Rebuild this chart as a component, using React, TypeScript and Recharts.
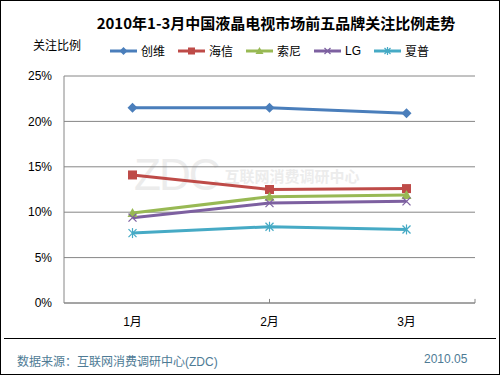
import { LineChart, Line, XAxis, YAxis, CartesianGrid, ReferenceLine } from 'recharts';

const months = ['1月', '2月', '3月'];
const skyworth = [21.5, 21.5, 20.9];
const hisense = [14.1, 12.5, 12.6];
const sony = [9.9, 11.7, 11.9];
const lg = [9.4, 11.0, 11.2];
const sharp = [7.7, 8.4, 8.1];
const yTicks = [0, 5, 10, 15, 20, 25];
const boundaries = [1, 2, 3];

const FONT = '"Liberation Sans", "Noto Sans CJK SC", Arial, sans-serif';

type Shape = 'diamond' | 'square' | 'triangle' | 'x' | 'star';

const series: { key: string; name: string; color: string; shape: Shape; values: number[] }[] = [
  { key: 'skyworth', name: '创维', color: '#4A7EBB', shape: 'diamond', values: skyworth },
  { key: 'hisense', name: '海信', color: '#BE4B48', shape: 'square', values: hisense },
  { key: 'sony', name: '索尼', color: '#98B954', shape: 'triangle', values: sony },
  { key: 'lg', name: 'LG', color: '#7D60A0', shape: 'x', values: lg },
  { key: 'sharp', name: '夏普', color: '#46AAC5', shape: 'star', values: sharp },
];

const data = months.map((m, i) => {
  const row: Record<string, string | number> = { month: m };
  series.forEach((s) => {
    row[s.key] = s.values[i];
  });
  return row;
});

const Marker = ({ cx, cy, color, shape, r = 5 }: { cx: number; cy: number; color: string; shape: Shape; r?: number }) => {
  if (shape === 'diamond') {
    return <polygon points={`${cx},${cy - r} ${cx + r},${cy} ${cx},${cy + r} ${cx - r},${cy}`} fill={color} />;
  }
  if (shape === 'square') {
    return <rect x={cx - r + 0.5} y={cy - r + 0.5} width={2 * r - 1} height={2 * r - 1} fill={color} />;
  }
  if (shape === 'triangle') {
    return <polygon points={`${cx},${cy - r} ${cx + r},${cy + r - 1} ${cx - r},${cy + r - 1}`} fill={color} />;
  }
  const d = r - 1;
  return (
    <g stroke={color} strokeWidth={1.2}>
      <line x1={cx - d} y1={cy - d} x2={cx + d} y2={cy + d} />
      <line x1={cx - d} y1={cy + d} x2={cx + d} y2={cy - d} />
      {shape === 'star' && <line x1={cx} y1={cy - r} x2={cx} y2={cy + r} />}
    </g>
  );
};

const LegendRow = () => (
  <div style={{ position: 'absolute', left: 110, top: 42, display: 'flex', fontFamily: FONT, fontSize: 12 }}>
    {series.map((s) => (
      <div key={s.key} style={{ display: 'flex', alignItems: 'center', marginRight: 13 }}>
        <svg width={28} height={16}>
          <line x1={0} y1={8} x2={27} y2={8} stroke={s.color} strokeWidth={3} />
          <Marker cx={13.5} cy={8} color={s.color} shape={s.shape} r={4} />
        </svg>
        <span style={{ marginLeft: 3, color: '#000' }}>{s.name}</span>
      </div>
    ))}
  </div>
);

export default function App() {
  return (
    <div style={{ position: 'absolute', left: 0, top: 0, width: 500, height: 375, background: '#fff', fontFamily: FONT }}>
      {/* watermark */}
      <div style={{ position: 'absolute', left: 134, top: 150, color: '#ececec', fontFamily: FONT, display: 'flex', alignItems: 'center' }}>
        <span style={{ fontSize: 44, fontWeight: 300, letterSpacing: -2 }}>ZDC</span>
        <span style={{ fontSize: 15, marginLeft: 6, fontWeight: 700 }}>互联网消费调研中心</span>
      </div>
      <div style={{ position: 'absolute', left: 0, top: 0 }}>
        <LineChart width={500} height={375} data={data} margin={{ top: 76, right: 25, bottom: 42, left: 0 }}>
          <CartesianGrid vertical={false} stroke="#868686" strokeWidth={1} />
          <XAxis
            dataKey="month"
            scale="band"
            height={30}
            axisLine={{ stroke: '#868686' }}
            tickLine={false}
            tickSize={0}
            tickMargin={14}
            tick={{ fill: '#000', fontSize: 12, fontFamily: FONT }}
          />
          <XAxis xAxisId="b" type="number" domain={[0, 3]} hide />
          <YAxis
            domain={[0, 25]}
            ticks={yTicks}
            width={64}
            axisLine={{ stroke: '#868686' }}
            tickLine={false}
            tickSize={0}
            tickMargin={12}
            tickFormatter={(v: number) => `${v}%`}
            tick={{ fill: '#000', fontSize: 12, fontFamily: FONT }}
          />
          {boundaries.map((b) => (
            <ReferenceLine
              key={b}
              xAxisId="b"
              segment={[{ x: b, y: 0 }, { x: b, y: 0.45 }]}
              stroke="#868686"
              ifOverflow="visible"
            />
          ))}
          {series.map((s) => (
            <Line
              key={s.key}
              dataKey={s.key}
              name={s.name}
              stroke={s.color}
              strokeWidth={3}
              isAnimationActive={false}
              dot={(p: any) => <Marker key={`${s.key}-${p.index}`} cx={p.cx} cy={p.cy} color={s.color} shape={s.shape} />}
              activeDot={false}
            />
          ))}
        </LineChart>
      </div>
      <div style={{ position: 'absolute', left: 0, width: 552, top: 12, textAlign: 'center', fontSize: 15, fontWeight: 700, fontFamily: '"Noto Sans CJK SC", "Liberation Sans", sans-serif', color: '#000' }}>
        2010年1-3月中国液晶电视市场前五品牌关注比例走势
      </div>
      <div style={{ position: 'absolute', left: 33, top: 36, fontSize: 12, color: '#000' }}>关注比例</div>
      <LegendRow />
      <div style={{ position: 'absolute', left: 4, top: 338, width: 492, height: 1, background: '#000' }} />
      <div style={{ position: 'absolute', left: 17, top: 352, fontSize: 12, color: '#4E7B95' }}>数据来源：互联网消费调研中心(ZDC)</div>
      <div style={{ position: 'absolute', left: 424, top: 352, fontSize: 12, color: '#4E7B95' }}>2010.05</div>
      <div style={{ position: 'absolute', left: 0, top: 0, width: 500, height: 375, boxSizing: 'border-box', border: '1px solid #000', pointerEvents: 'none' }} />
    </div>
  );
}
